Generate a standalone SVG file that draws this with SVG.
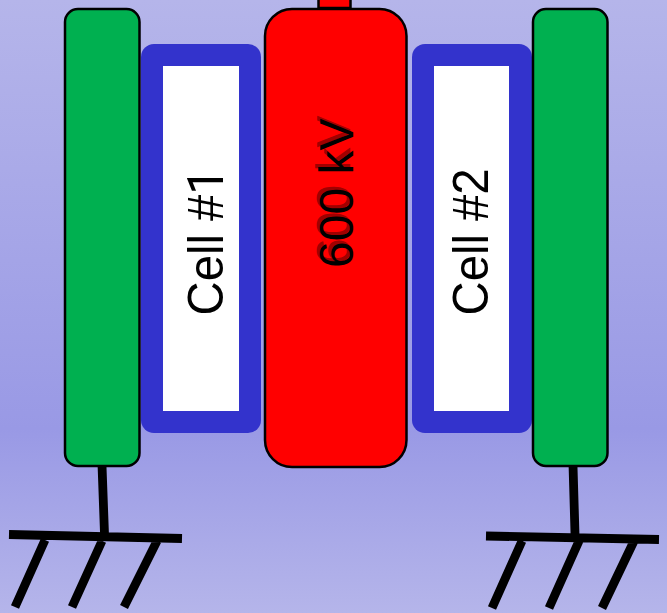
<svg xmlns="http://www.w3.org/2000/svg" width="667" height="613" viewBox="0 0 667 613">
<defs>
<linearGradient id="bg" x1="0" y1="0" x2="0" y2="1">
<stop offset="0" stop-color="#b5b5ea"/><stop offset="0.7" stop-color="#9999e5"/><stop offset="1" stop-color="#b5b5ea"/>
</linearGradient>
</defs>
<style>
.plate{fill:#00b050;stroke:#000;stroke-width:2.5}
.cell{fill:#3333cc}
.inner{fill:#fff}
.lab{font-family:"Liberation Sans",Arial,sans-serif;font-size:48px;fill:#000}
.gnd{fill:none;stroke:#000;stroke-width:8.8}
</style>
<rect width="667" height="613" fill="url(#bg)"/>
<g id="connectors">
<path class="gnd" d="M102 465L104.500 534M9 534.500L182 538.500M45 540L15 607M102 541L72 607M157 541L124 607"/>
<path class="gnd" d="M573 465L575 534M486 536L659 539.500M522 541L492 608M579 541L549 608M634 541L602 608"/>
</g>
<g id="top-lead"><rect x="318.500" y="-4" width="32" height="12" fill="#f00" stroke="#000" stroke-width="2.500"/></g>
<g id="plate-left"><rect class="plate" x="65" y="9" width="74.500" height="457" rx="13"/></g>
<g id="cell-1"><rect class="cell" x="141" y="44" width="120" height="389" rx="13"/><rect class="inner" x="163" y="66" width="76" height="345"/>
<text class="lab" transform="translate(223 315.500) rotate(-90) scale(0.985 1.03)">Cell #<tspan font-family="Roboto">1</tspan></text></g>
<g id="electrode"><rect x="265" y="9" width="141.500" height="458" rx="27" fill="#f00" stroke="#000" stroke-width="2.500"/>
<text class="lab" transform="translate(350 265) rotate(-90)" style="fill:#a00000">600 kV</text>
<text class="lab" transform="translate(353 268) rotate(-90)">600 kV</text></g>
<g id="cell-2"><rect class="cell" x="412" y="44" width="120" height="389" rx="13"/><rect class="inner" x="434" y="66" width="75" height="345"/>
<text class="lab" transform="translate(488 315.500) rotate(-90) scale(0.985 1.03)">Cell #2</text></g>
<g id="plate-right"><rect class="plate" x="533" y="9" width="74.500" height="457" rx="13"/></g>
</svg>
